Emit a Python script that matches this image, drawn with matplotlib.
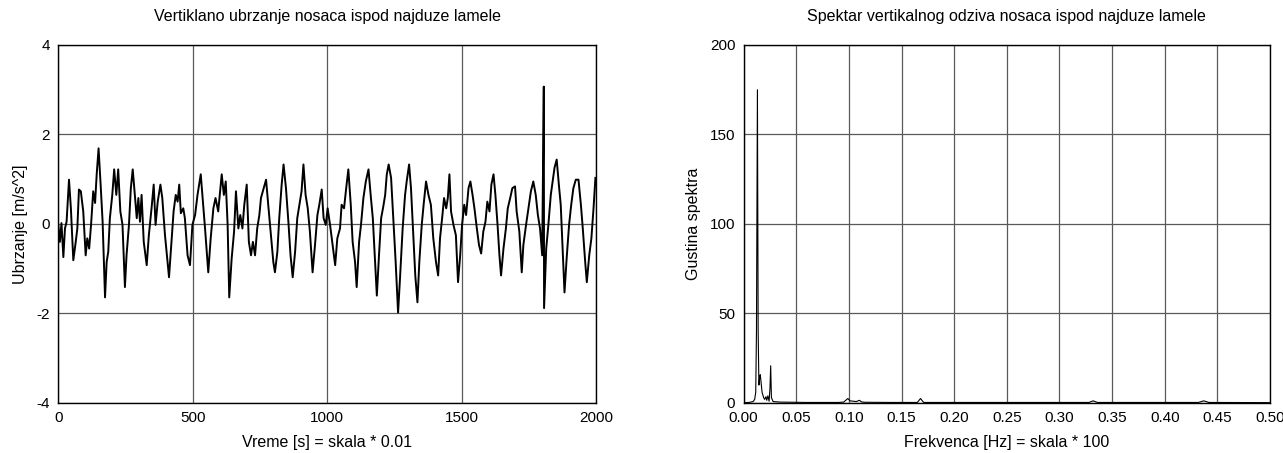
import matplotlib
matplotlib.use('Agg')
import matplotlib.pyplot as plt

plt.rcParams['font.family'] = ['Liberation Sans', 'DejaVu Sans']
plt.rcParams['axes.unicode_minus'] = False

# vertical acceleration (sample index, m/s^2)
acc_t = [0, 6, 12, 19, 25, 31, 40, 47, 56, 65, 71, 77, 84, 93, 102, 108, 115,
         122, 130, 137, 143, 150, 158, 165, 174, 180, 186, 192, 201, 208, 216,
         223, 231, 239, 248, 254, 263, 270, 277, 285, 292, 298, 304, 310, 318,
         329, 337, 347, 355, 362, 370, 380, 387, 397, 412, 422, 429, 437, 444,
         450, 456, 465, 471, 481, 490, 499, 509, 518, 530, 537, 546, 558, 567,
         577, 585, 595, 608, 616, 623, 630, 636, 645, 654, 661, 670, 677, 685,
         692, 701, 709, 717, 724, 732, 740, 748, 754, 763, 773, 781, 790, 800,
         806, 815, 822, 831, 838, 847, 856, 864, 872, 881, 889, 897, 905, 912,
         920, 928, 936, 946, 955, 964, 971, 980, 987, 995, 1002, 1011, 1030,
         1038, 1048, 1054, 1063, 1071, 1079, 1088, 1095, 1104, 1110, 1119,
         1126, 1135, 1144, 1154, 1162, 1170, 1176, 1185, 1193, 1201, 1209,
         1216, 1222, 1229, 1238, 1247, 1255, 1264, 1271, 1281, 1290, 1296,
         1305, 1312, 1321, 1328, 1336, 1343, 1352, 1359, 1368, 1377, 1386,
         1395, 1405, 1413, 1420, 1429, 1435, 1443, 1449, 1455, 1461, 1470,
         1479, 1487, 1495, 1502, 1510, 1517, 1526, 1533, 1541, 1548, 1557,
         1565, 1573, 1581, 1589, 1596, 1604, 1611, 1619, 1626, 1634, 1641,
         1647, 1656, 1665, 1672, 1681, 1689, 1699, 1705, 1715, 1724, 1730,
         1740, 1749, 1758, 1767, 1776, 1784, 1792, 1800, 1806, 1807, 1815,
         1823, 1832, 1839, 1846, 1854, 1862, 1869, 1877, 1883, 1891, 1900,
         1908, 1916, 1925, 1935, 1944, 1951, 1960, 1966, 1975, 1983, 1991,
         1998]
acc_v = [-0.02, -0.40, 0.02, -0.74, -0.10, 0.05, 0.99, 0.35, -0.81, -0.40,
         -0.10, 0.77, 0.73, 0.28, -0.70, -0.32, -0.55, -0.02, 0.73, 0.47,
         1.11, 1.69, 0.84, 0.05, -1.64, -0.85, -0.62, 0.13, 0.65, 1.22, 0.65,
         1.22, 0.28, -0.02, -1.41, -0.70, -0.02, 0.80, 1.22, 0.65, 0.13, 0.58,
         0.05, 0.65, -0.40, -0.92, -0.25, 0.35, 0.88, -0.02, 0.50, 0.88, 0.58,
         -0.25, -1.19, -0.32, 0.28, 0.65, 0.50, 0.88, 0.24, 0.35, 0.13, -0.70,
         -0.92, -0.02, 0.20, 0.65, 1.11, 0.58, -0.10, -1.08, -0.32, 0.35,
         0.58, 0.28, 1.11, 0.65, 0.95, -0.02, -1.64, -0.77, -0.17, 0.73,
         -0.10, 0.20, -0.10, 0.43, 0.88, -0.40, -0.70, -0.40, -0.70, -0.10,
         0.20, 0.58, 0.77, 0.99, 0.43, -0.17, -0.85, -1.08, -0.62, 0.13,
         0.88, 1.33, 0.80, 0.05, -0.70, -1.19, -0.62, 0.13, 0.43, 0.73, 1.33,
         0.65, 0.35, -0.17, -1.08, -0.47, 0.20, 0.43, 0.77, 0.13, -0.02, 0.35,
         -0.02, -0.92, -0.32, -0.10, 0.43, 0.35, 0.80, 1.22, 0.43, -0.40,
         -0.85, -1.41, -0.40, -0.02, 0.58, 0.95, 1.22, 0.65, 0.13, -0.55,
         -1.60, -0.70, 0.13, 0.39, 0.65, 1.11, 1.33, 1.03, 0.05, -0.85, -1.98,
         -1.23, -0.10, 0.65, 0.95, 1.33, 0.80, -0.32, -1.15, -1.75, -0.85,
         -0.02, 0.43, 0.95, 0.65, 0.43, -0.32, -0.85, -1.15, -0.32, 0.20,
         0.58, 0.35, 0.58, 1.11, 0.28, -0.02, -0.25, -1.30, -0.70, -0.02,
         0.43, 0.20, 0.80, 0.95, 0.65, 0.35, -0.10, -0.47, -0.66, -0.17, 0.05,
         0.50, 0.28, 0.88, 1.11, 0.65, -0.02, -0.70, -1.15, -0.55, -0.10,
         0.35, 0.58, 0.80, 0.84, 0.28, -0.17, -1.08, -0.47, -0.02, 0.35, 0.73,
         0.95, 0.65, 0.20, -0.10, -0.70, 3.07, -1.88, -0.55, -0.02, 0.65,
         0.95, 1.26, 1.44, 0.88, 0.43, -0.70, -1.53, -0.77, -0.02, 0.43, 0.80,
         0.99, 0.99, 0.43, -0.10, -0.85, -1.30, -0.70, -0.32, 0.35, 1.03]

# response spectrum
spec_f = [0.0, 0.005, 0.009, 0.0105, 0.0115, 0.0122, 0.0131, 0.0138, 0.0145,
          0.0152, 0.0158, 0.0165, 0.0175, 0.019, 0.020, 0.0212, 0.022, 0.023,
          0.0242, 0.0250, 0.0257, 0.0264, 0.028, 0.035, 0.06, 0.09, 0.095,
          0.097, 0.099, 0.101, 0.104, 0.107, 0.110, 0.112, 0.115, 0.14, 0.165,
          0.168, 0.171, 0.20, 0.30, 0.328, 0.332, 0.336, 0.40, 0.432, 0.437,
          0.442, 0.50]
spec_d = [0.2, 0.3, 0.8, 2.0, 6.0, 40.0, 175.0, 40.0, 10.0, 14.0, 15.8, 12.0,
          6.0, 3.0, 2.0, 3.5, 1.5, 4.0, 1.0, 8.0, 20.8, 3.0, 0.8, 0.5, 0.3,
          0.3, 0.5, 1.5, 2.5, 1.2, 1.0, 0.8, 1.5, 0.6, 0.4, 0.3, 0.3, 2.5, 0.3,
          0.3, 0.3, 0.3, 1.2, 0.3, 0.3, 0.3, 1.2, 0.3, 0.2]

fig = plt.figure(figsize=(12.83, 4.53), dpi=100)
ax1 = fig.add_axes([0.0454, 0.1104, 0.4191, 0.7903])
ax2 = fig.add_axes([0.5796, 0.1104, 0.4103, 0.7903])

grid_kw = dict(color='0.35', linewidth=0.9)
txt = 11.5

ax1.plot(acc_t, acc_v, color='black', linewidth=1.4)
ax1.set_xlim(0, 2000)
ax1.set_ylim(-4, 4)
ax1.set_xticks([0, 500, 1000, 1500, 2000])
ax1.set_yticks([-4, -2, 0, 2, 4])
ax1.grid(True, **grid_kw)
ax1.set_axisbelow(True)
ax1.set_title('Vertiklano ubrzanje nosaca ispod najduze lamele', fontsize=txt, pad=17)
ax1.set_xlabel('Vreme [s] = skala * 0.01', fontsize=txt, labelpad=7)
ax1.set_ylabel('Ubrzanje [m/s^2]', fontsize=txt, labelpad=6)

ax2.plot(spec_f, spec_d, color='black', linewidth=0.8)
ax2.set_xlim(0, 0.5)
ax2.set_ylim(0, 200)
ax2.set_xticks([i * 0.05 for i in range(11)])
ax2.set_xticklabels(['%.2f' % (i * 0.05) for i in range(11)])
ax2.set_yticks([0, 50, 100, 150, 200])
ax2.grid(True, **grid_kw)
ax2.set_axisbelow(True)
ax2.set_title('Spektar vertikalnog odziva nosaca ispod najduze lamele', fontsize=txt, pad=17)
ax2.set_xlabel('Frekvenca [Hz] = skala * 100', fontsize=txt, labelpad=7)
ax2.set_ylabel('Gustina spektra', fontsize=txt, labelpad=6)

for ax in (ax1, ax2):
    ax.tick_params(length=0, labelsize=11, pad=6)
    for s in ax.spines.values():
        s.set_linewidth(1.0)

fig.savefig('out.png', dpi=100)
